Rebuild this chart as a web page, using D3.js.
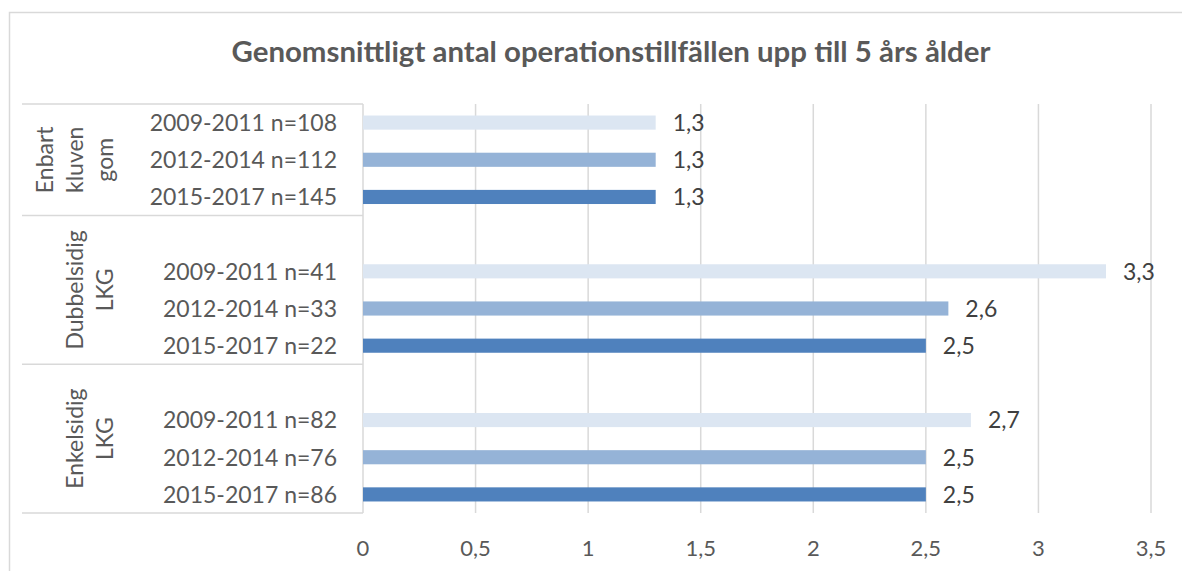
<!DOCTYPE html>
<html>
<head>
<meta charset="utf-8">
<script src="https://cdn.jsdelivr.net/npm/d3@7"></script>
<style>
  body { margin: 0; background: #fff; }
  svg { display: block; }
  text { font-family: Lato, "Open Sans", sans-serif; }
</style>
</head>
<body>
<div id="chart-container"></div>
<script>
// Data.
const title = "Genomsnittligt antal operationstillfällen upp till 5 års ålder";
const groupLines = [["Enbart", "kluven", "gom"], ["Dubbelsidig", "LKG"], ["Enkelsidig", "LKG"]];
const periods = ["2009-2011", "2012-2014", "2015-2017"];
const nValues = [[108, 112, 145], [41, 33, 22], [82, 76, 86]];
const values = [[1.3, 1.3, 1.3], [3.3, 2.6, 2.5], [2.7, 2.5, 2.5]];
const tickValues = [0, 0.5, 1, 1.5, 2, 2.5, 3, 3.5];
const colors = ["#DCE6F2", "#95B3D7", "#4F81BD"];

const width = 1182;
const height = 571;
const fmt = v => String(v).replace(".", ",");

// Build the category rows (with an empty spacer row before groups 2 and 3).
const rows = [];
groupLines.forEach((g, gi) => {
    if (gi > 0) rows.push({ id: `gap${gi}`, group: gi, blank: true });
    periods.forEach((p, pi) => {
        rows.push({ id: `${gi}-${pi}`, group: gi, period: pi,
                    label: `${p} n=${nValues[gi][pi]}`, value: values[gi][pi] });
    });
});

const svg = d3.select("#chart-container").append("svg")
    .attr("width", width)
    .attr("height", height);

// Outer chart border.
svg.append("rect")
    .attr("x", 9.5).attr("y", 12.5)
    .attr("width", 1200).attr("height", 600)
    .attr("fill", "none").attr("stroke", "#d9d9d9").attr("stroke-width", 1.5);

// Title
svg.append("text")
    .attr("x", 611).attr("y", 62)
    .attr("text-anchor", "middle")
    .style("font-size", "29.4px").style("font-weight", "bold")
    .attr("fill", "#595959")
    .text(title);

const x = d3.scaleLinear().domain([0, 3.5]).range([363, 1151]);
const y = d3.scaleBand().domain(rows.map(d => d.id)).range([104, 513]).padding(0);
const barH = y.bandwidth() * 0.38;

// Vertical gridlines
svg.append("g").selectAll("line")
    .data(tickValues)
    .join("line")
    .attr("x1", d => x(d)).attr("x2", d => x(d))
    .attr("y1", 104).attr("y2", 513)
    .attr("stroke", "#d9d9d9").attr("stroke-width", 1.5);

// Tick labels
svg.append("g").selectAll("text")
    .data(tickValues)
    .join("text")
    .attr("x", d => x(d)).attr("y", 556)
    .attr("text-anchor", "middle")
    .style("font-size", "22px")
    .attr("fill", "#595959")
    .text(d => fmt(d));

// Group separators on the category axis.
const sepY = [104];
groupLines.forEach((g, gi) => {
    const last = rows.filter(r => r.group === gi && !r.blank).slice(-1)[0];
    sepY.push(y(last.id) + y.step());
});
svg.append("g").selectAll("line")
    .data(sepY)
    .join("line")
    .attr("x1", 22).attr("x2", 363)
    .attr("y1", d => d).attr("y2", d => d)
    .attr("stroke", "#d9d9d9").attr("stroke-width", 1.5);

// Bars
const dataRows = rows.filter(r => !r.blank);
svg.append("g").selectAll("rect")
    .data(dataRows)
    .join("rect")
    .attr("x", x(0))
    .attr("y", d => y(d.id) + y.bandwidth() / 2 - barH / 2)
    .attr("width", d => x(d.value) - x(0))
    .attr("height", barH)
    .attr("fill", d => colors[d.period]);

// Value labels
svg.append("g").selectAll("text")
    .data(dataRows)
    .join("text")
    .attr("x", d => x(d.value) + 17)
    .attr("y", d => y(d.id) + y.bandwidth() / 2)
    .attr("dy", "0.36em")
    .style("font-size", "23px")
    .attr("fill", "#404040")
    .text(d => fmt(d.value));

// Period labels
svg.append("g").selectAll("text")
    .data(dataRows)
    .join("text")
    .attr("x", 337)
    .attr("y", d => y(d.id) + y.bandwidth() / 2)
    .attr("dy", "0.36em")
    .attr("text-anchor", "end")
    .style("font-size", "23px")
    .attr("fill", "#595959")
    .text(d => d.label);

// Group labels, rotated, last line baseline near x=113.
groupLines.forEach((lines, gi) => {
    const cy = (sepY[gi] + sepY[gi + 1]) / 2;
    const t = svg.append("text")
        .attr("transform", `translate(0,${cy}) rotate(-90)`)
        .attr("text-anchor", "middle")
        .style("font-size", "23px")
        .attr("fill", "#595959");
    lines.forEach((ln, li) => {
        t.append("tspan")
            .attr("x", 0)
            .attr("y", 113 - (lines.length - 1 - li) * 30)
            .text(ln);
    });
});
</script>
</body>
</html>
